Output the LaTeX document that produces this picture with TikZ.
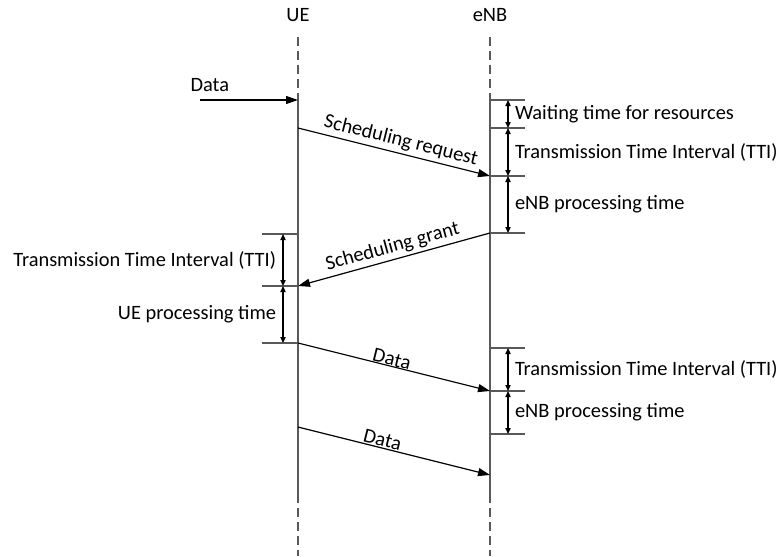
\documentclass[tikz,border=0pt]{standalone}
\usepackage{fontspec}
\setmainfont{Carlito}
\usetikzlibrary{arrows.meta, positioning, calc}

\begin{document}
\begin{tikzpicture}[
  x=0.5pt, y=-0.5pt,
  every node/.style={font=\fontsize{10.2}{12}\selectfont},
  %% Estilos: lineas de vida, marcas de tiempo, mensajes
  life/.style={draw=black!65, line width=0.7pt},
  lifedash/.style={life, dash pattern=on 4.5pt off 2.5pt},
  tickline/.style={draw=black!65, line width=0.7pt},
  msg/.style={-{Triangle[length=6pt, width=4pt]}, line width=0.6pt},
  dur/.style={{Triangle[length=3pt, width=2.6pt]}-{Triangle[length=3pt, width=2.6pt]},
              line width=1pt},
  lbl/.style={sloped, above, inner sep=1.5pt},
  tlbl/.style={inner sep=3pt}
]
\useasboundingbox (0,0) rectangle (779,556);

%% ── Cabeceras y lineas de vida ───────────────────────────────────────────
\node (ue)  at (298,15) {UE};
\node (enb) at (490,15) {eNB};

\coordinate (ue top)  at (298,37);
\coordinate (ue s)    at (298,100);
\coordinate (ue e)    at (298,494);
\coordinate (ue bot)  at (298,556);
\coordinate (enb top) at (490,37);
\coordinate (enb s)   at (490,100);
\coordinate (enb e)   at (490,494);
\coordinate (enb bot) at (490,556);

\draw[lifedash] (ue top)  -- (ue s);
\draw[life]     (ue s)    -- (ue e);
\draw[lifedash] (ue e)    -- (ue bot);
\draw[lifedash] (enb top) -- (enb s);
\draw[life]     (enb s)   -- (enb e);
\draw[lifedash] (enb e)   -- (enb bot);

%% ── Instantes en el UE ───────────────────────────────────────────────────
\coordinate (u1) at (298,128);
\coordinate (u2) at (298,234);
\coordinate (u3) at (298,286);
\coordinate (u4) at (298,343);
\coordinate (u5) at (298,427);

%% ── Instantes en el eNB ──────────────────────────────────────────────────
\coordinate (e0) at (490,100);
\coordinate (e1) at (490,128);
\coordinate (e2) at (490,176);
\coordinate (e3) at (490,233);
\coordinate (e4) at (490,348);
\coordinate (e5) at (490,391);
\coordinate (e6) at (490,434);
\coordinate (e7) at (490,475);

%% ── Marcas de tiempo ─────────────────────────────────────────────────────
\foreach \p in {e0,e1,e2,e3,e4,e5,e6}
  \draw[tickline] (\p) -- ++(35,0);
\foreach \p in {u2,u3,u4}
  \draw[tickline] (\p) -- ++(-36,0);

%% ── Mensajes ─────────────────────────────────────────────────────────────
\coordinate (src) at (200,100);
\draw[msg] (src) -- node[above, pos=0.1, inner sep=4pt]{Data} (ue s);
\draw[msg] (u1) -- node[lbl, pos=0.52]{Scheduling request} (e2);
\draw[msg] (e3) -- node[lbl, pos=0.49]{Scheduling grant} (u3);
\draw[msg] (u4) -- node[lbl, pos=0.48, inner sep=0pt]{Data} (e5);
\draw[msg] (u5) -- node[lbl, pos=0.43, inner sep=0.5pt]{Data} (e7);

%% ── Intervalos en el eNB ─────────────────────────────────────────────────
\draw[dur] ($(e0)+(18,0)$) -- node[tlbl, right]{Waiting time for resources} ($(e1)+(18,0)$);
\draw[dur] ($(e1)+(18,0)$) -- node[tlbl, right]{Transmission Time Interval (TTI)} ($(e2)+(18,0)$);
\draw[dur] ($(e2)+(18,0)$) -- node[tlbl, right]{eNB processing time} ($(e3)+(18,0)$);
\draw[dur] ($(e4)+(18,0)$) -- node[tlbl, right]{Transmission Time Interval (TTI)} ($(e5)+(18,0)$);
\draw[dur] ($(e5)+(18,0)$) -- node[tlbl, right]{eNB processing time} ($(e6)+(18,0)$);

%% ── Intervalos en el UE ──────────────────────────────────────────────────
\draw[dur] ($(u2)+(-15,0)$) -- node[tlbl, left]{Transmission Time Interval (TTI)} ($(u3)+(-15,0)$);
\draw[dur] ($(u3)+(-15,0)$) -- node[tlbl, left]{UE processing time} ($(u4)+(-15,0)$);

\end{tikzpicture}
\end{document}
